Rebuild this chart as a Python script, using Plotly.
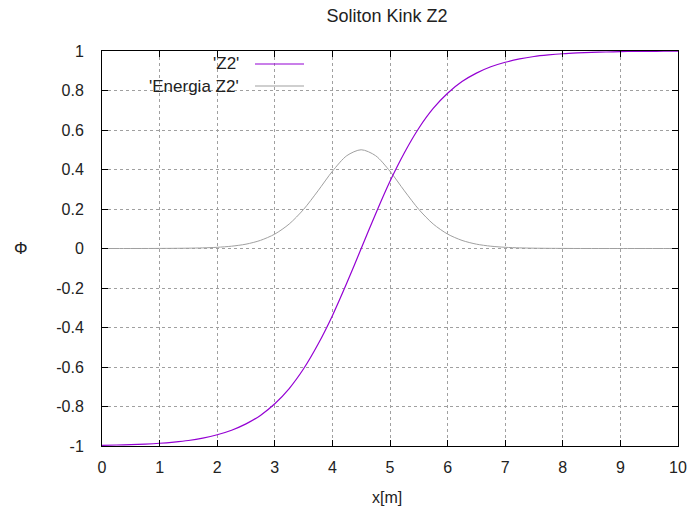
import plotly.graph_objects as go

# ---- data ----
x_vals = [0.0, 0.25, 0.5, 0.75, 1.0, 1.25, 1.5, 1.75, 2.0, 2.25, 2.5, 2.75, 3.0, 3.25,
          3.5, 3.75, 4.0, 4.25, 4.5, 4.75, 5.0, 5.25, 5.5, 5.75, 6.0, 6.25, 6.5, 6.75,
          7.0, 7.25, 7.5, 7.75, 8.0, 8.25, 8.5, 8.75, 9.0, 9.25, 9.5, 9.75, 10.0]
z2 = [-0.997, -0.995, -0.993, -0.990, -0.986, -0.980, -0.972, -0.960, -0.943, -0.920,
      -0.888, -0.845, -0.786, -0.709, -0.609, -0.485, -0.340, -0.175, 0.0, 0.175,
      0.340, 0.485, 0.609, 0.709, 0.786, 0.845, 0.888, 0.920, 0.943, 0.960, 0.972,
      0.980, 0.986, 0.990, 0.993, 0.995, 0.997, 0.998, 0.998, 0.999, 0.999]
energia = [0.0, 0.0, 0.0, 0.0001, 0.0004, 0.0008, 0.0016, 0.0031, 0.0061, 0.0117,
           0.022, 0.041, 0.073, 0.124, 0.198, 0.292, 0.391, 0.470, 0.500, 0.470,
           0.391, 0.292, 0.198, 0.124, 0.073, 0.041, 0.022, 0.0117, 0.0061, 0.0031,
           0.0016, 0.0008, 0.0004, 0.0001, 0.0, 0.0, 0.0, 0.0, 0.0, 0.0, 0.0]

x_ticks = [0, 1, 2, 3, 4, 5, 6, 7, 8, 9, 10]
x_ticktext = ["0", "1", "2", "3", "4", "5", "6", "7", "8", "9", "10"]
y_ticks = [-1, -0.8, -0.6, -0.4, -0.2, 0, 0.2, 0.4, 0.6, 0.8, 1]
y_ticktext = ["-1", "-0.8", "-0.6", "-0.4", "-0.2", "0", "0.2", "0.4", "0.6", "0.8", "1"]

series_names = ["'Z2'", "'Energia Z2'"]
series_colors = ["#9400d3", "#a0a0a0"]

FONT = "Liberation Sans, Arial, sans-serif"
TXT = "#222222"

fig = go.Figure()
fig.add_trace(go.Scatter(x=x_vals, y=energia, mode="lines", name=series_names[1],
                         line=dict(color=series_colors[1], width=1, shape="spline", smoothing=0.8),
                         showlegend=False))
fig.add_trace(go.Scatter(x=x_vals, y=z2, mode="lines", name=series_names[0],
                         line=dict(color=series_colors[0], width=1.2, shape="spline", smoothing=0.8),
                         showlegend=False))

W, H = 689, 512
L, R, T, B = 102, 11, 51, 66
pw, ph = W - L - R, H - T - B

def px(xp):
    return (xp - L) / pw

def py(yp):
    return (H - B - yp) / ph

axis_common = dict(
    showline=True, linecolor="black", linewidth=1, mirror="allticks",
    ticks="inside", ticklen=6, tickcolor="black", automargin=False,
    showgrid=True, gridcolor="#a0a0a0", griddash="dot", gridwidth=1,
    zeroline=False, tickfont=dict(family=FONT, size=16, color=TXT),
)

fig.update_layout(
    width=W, height=H, autosize=False,
    margin=dict(l=L, r=R, t=T, b=B),
    paper_bgcolor="white", plot_bgcolor="white",
    title=dict(text="Soliton Kink Z2", font=dict(family=FONT, size=18, color=TXT),
               xref="container", x=387 / W, xanchor="center",
               yref="container", y=1 - 16 / H, yanchor="middle"),
    xaxis=dict(range=[0, 10], tickvals=x_ticks, ticktext=x_ticktext,
               ticklabelstandoff=7, **axis_common),
    yaxis=dict(range=[-1, 1], tickvals=y_ticks, ticktext=y_ticktext,
               ticklabelstandoff=14, **axis_common),
    showlegend=False,
)

fig.add_annotation(text="x[m]", xref="paper", yref="paper", x=px(387), y=py(497),
                   showarrow=False, font=dict(family=FONT, size=16, color=TXT),
                   xanchor="center", yanchor="middle")
fig.add_annotation(text="Φ", xref="paper", yref="paper", x=px(21), y=py(248),
                   showarrow=False, font=dict(family=FONT, size=17, color=TXT),
                   xanchor="center", yanchor="middle")

rows_y = [64, 86]
for name, color, ry in zip(series_names, series_colors, rows_y):
    fig.add_annotation(text=name, xref="paper", yref="paper", x=px(241), y=py(ry),
                       showarrow=False, font=dict(family=FONT, size=17, color=TXT),
                       xanchor="right", yanchor="middle")
    fig.add_shape(type="line", xref="paper", yref="paper",
                  x0=px(255), x1=px(304), y0=py(ry), y1=py(ry),
                  line=dict(color=color, width=1.2))

fig.write_html("out.html", config={"responsive": False})
